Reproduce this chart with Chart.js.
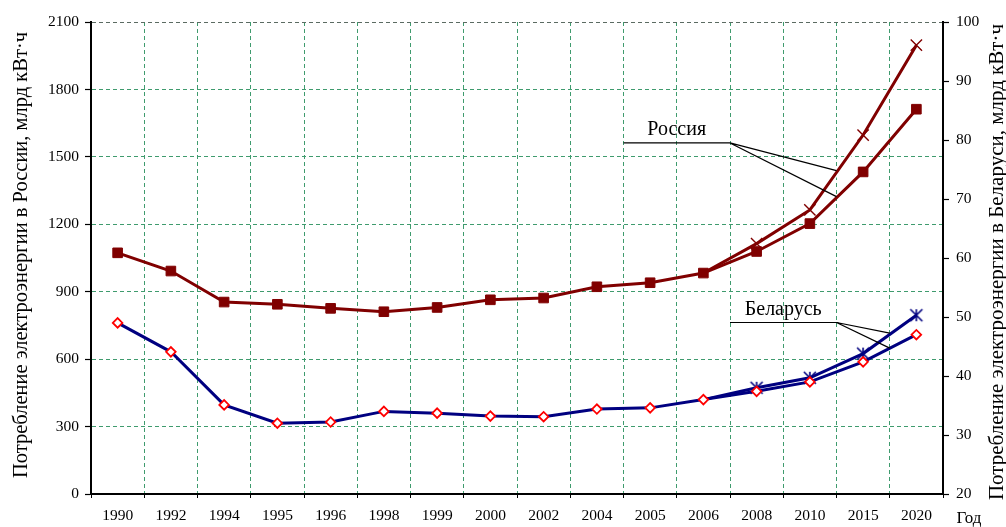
<!DOCTYPE html>
<html>
<head>
<meta charset="utf-8">
<script src="https://cdn.jsdelivr.net/npm/chart.js@4"></script>
<style>
html,body{margin:0;padding:0;background:#fff;}
#wrap{width:1006px;height:527px;}
canvas{display:block;}
</style>
</head>
<body>
<div id="wrap"><canvas id="c" width="1006" height="527"></canvas></div>
<script>
// ---------- data ----------
const categories = ['1990','1992','1994','1995','1996','1998','1999','2000','2002','2004','2005','2006','2008','2010','2015','2020'];
// Russia, bln kWh (left axis)
const russia = [1073, 992, 854, 844, 826, 811, 830, 864, 872, 922, 940, 983, 1079, 1203, 1433, 1712];
const russiaHigh = [null, null, null, null, null, null, null, null, null, null, null, 983, 1114, 1264, 1597, 1997];
// Belarus, bln kWh (right axis)
const belarus = [49.0, 44.1, 35.1, 32.0, 32.2, 34.0, 33.7, 33.2, 33.1, 34.4, 34.6, 36.0, 37.4, 39.0, 42.4, 47.0];
const belarusHigh = [null, null, null, null, null, null, null, null, null, null, null, 36.0, 38.0, 39.7, 43.8, 50.3];
const leftRange = [0, 2100, 300];
const rightRange = [20, 100, 10];
const leftTitle = 'Потребление электроэнергии в России, млрд кВт·ч';
const rightTitle = 'Потребление электроэнергии в Беларуси, млрд кВт·ч';
const xUnit = 'Год';
const labelRussia = 'Россия';
const labelBelarus = 'Беларусь';

// ---------- styles ----------
const FONT = '"Liberation Serif", "Times New Roman", serif';
const RED = '#800000';
const NAVY = '#000080';
const GRID = '#3f9b6e';
const DASH = [4, 3];

function makeStar(h, color, lw) {
  const s = Math.ceil(2 * h + lw + 2);
  const c = document.createElement('canvas');
  c.width = s; c.height = s;
  const g = c.getContext('2d');
  g.strokeStyle = color; g.lineWidth = lw; g.lineCap = 'butt';
  g.translate(s / 2, s / 2);
  g.beginPath();
  g.moveTo(-h, -h); g.lineTo(h, h);
  g.moveTo(-h, h); g.lineTo(h, -h);
  g.moveTo(0, -h); g.lineTo(0, h);
  g.stroke();
  return c;
}
const starImg = makeStar(6, NAVY, 1.6);

const lastShared = 11;

const textPlugin = {
  id: 'texts',
  afterDraw(chart) {
    const { ctx, scales } = chart;
    const x = scales.x, y = scales.y;
    ctx.save();
    ctx.fillStyle = '#000';
    ctx.textAlign = 'center';
    ctx.textBaseline = 'middle';
    // left title
    ctx.font = '20.5px ' + FONT;
    ctx.save();
    ctx.translate(22, 255);
    ctx.rotate(-Math.PI / 2);
    ctx.fillText(leftTitle, 0, 0);
    ctx.restore();
    // right title (reads bottom to top)
    ctx.font = '21px ' + FONT;
    ctx.save();
    ctx.translate(997, 262);
    ctx.rotate(-Math.PI / 2);
    ctx.fillText(rightTitle, 0, 0);
    ctx.restore();
    // x unit
    ctx.font = '17px ' + FONT;
    ctx.fillText(xUnit, 969, 519);

    // annotations (positioned via scales)
    function label(text, cx, cv, hx0, hx1, hv, targets) {
      ctx.font = '20px ' + FONT;
      ctx.fillStyle = '#000';
      ctx.fillText(text, x.getPixelForValue(cx), y.getPixelForValue(cv));
      ctx.strokeStyle = '#000';
      ctx.lineWidth = 1.2;
      ctx.beginPath();
      const px0 = x.getPixelForValue(hx0), px1 = x.getPixelForValue(hx1), py = y.getPixelForValue(hv);
      ctx.moveTo(px0, py); ctx.lineTo(px1, py);
      targets.forEach(t => { ctx.moveTo(px1, py); ctx.lineTo(x.getPixelForValue(t[0]), y.getPixelForValue(t[1])); });
      ctx.stroke();
    }
    label(labelRussia, 10.5, 1621, 9.5, 11.5, 1562, [[13.5, 1439], [13.5, 1323]]);
    label(labelBelarus, 12.5, 820, 11.5, 13.5, 763, [[14.5, 716], [14.5, 649]]);
    ctx.restore();
  }
};

const ctx = document.getElementById('c').getContext('2d');
new Chart(ctx, {
  type: 'line',
  data: {
    labels: categories,
    datasets: [
      {
        label: 'Беларусь',
        data: belarus,
        yAxisID: 'y1',
        borderColor: NAVY,
        borderWidth: 3,
        pointStyle: 'rectRot',
        pointRadius: 4.8,
        pointBorderWidth: 1.8,
        pointBorderColor: '#ff0000',
        pointBackgroundColor: '#ffffff',
        tension: 0
      },
      {
        label: 'Беларусь (прогноз)',
        data: belarusHigh,
        yAxisID: 'y1',
        borderColor: NAVY,
        borderWidth: 3,
        pointStyle: starImg,
        pointRadius: c => c.dataIndex === lastShared ? 0 : 6,
        tension: 0
      },
      {
        label: 'Россия (прогноз)',
        data: russiaHigh,
        yAxisID: 'y',
        borderColor: RED,
        borderWidth: 3,
        pointStyle: 'crossRot',
        pointRadius: c => c.dataIndex === lastShared ? 0 : 8,
        pointBorderWidth: 1.4,
        pointBorderColor: RED,
        tension: 0
      },
      {
        label: 'halo',
        data: russiaHigh,
        yAxisID: 'y',
        borderColor: '#ffffff',
        borderWidth: 6,
        pointRadius: 0,
        segment: { borderColor: s => s.p0DataIndex === lastShared ? 'rgba(255,255,255,0)' : '#ffffff' },
        tension: 0
      },
      {
        label: 'Россия',
        data: russia,
        yAxisID: 'y',
        borderColor: RED,
        borderWidth: 3,
        pointStyle: 'rect',
        pointRadius: 6.8,
        pointBorderWidth: 1,
        pointBorderColor: RED,
        pointBackgroundColor: RED,
        tension: 0
      }
    ]
  },
  options: {
    responsive: false,
    animation: false,
    devicePixelRatio: 1,
    layout: { padding: { top: 22, left: 0, right: 0, bottom: 0 } },
    plugins: { legend: { display: false }, tooltip: { enabled: false }, title: { display: false } },
    scales: {
      x: {
        type: 'category',
        offset: true,
        afterFit: s => { s.height = 33; },
        grid: {
          offset: true,
          color: c => (c.type === 'tick' && c.index > 0) ? GRID : 'rgba(0,0,0,0)',
          lineWidth: 1,
          tickColor: '#000',
          tickLength: 4,
          tickWidth: 1,
          tickBorderDash: []
        },
        border: { display: true, color: '#000', width: 2, dash: DASH },
        ticks: { color: '#000', font: { family: FONT, size: 15.5 }, padding: 9, maxRotation: 0, autoSkip: false }
      },
      y: {
        position: 'left',
        min: leftRange[0], max: leftRange[1],
        afterFit: s => { s.width = 91; },
        grid: {
          color: c => (c.type !== 'tick' || c.tick.value === leftRange[0]) ? 'rgba(0,0,0,0)' : (c.tick.value === leftRange[1] ? '#5b6b62' : GRID),
          lineWidth: 1,
          tickColor: '#000',
          tickLength: 6,
          tickWidth: 1.2,
          tickBorderDash: []
        },
        border: { display: true, color: '#000', width: 2, dash: DASH },
        ticks: { stepSize: leftRange[2], color: '#000', font: { family: FONT, size: 15.5 }, padding: 6, callback: v => String(v) }
      },
      y1: {
        position: 'right',
        min: rightRange[0], max: rightRange[1],
        afterFit: s => { s.width = 63; },
        grid: {
          drawOnChartArea: false,
          color: '#000',
          tickColor: '#000',
          tickLength: 6,
          tickWidth: 1.2,
          tickBorderDash: []
        },
        border: { display: true, color: '#000', width: 2 },
        ticks: { stepSize: rightRange[2], color: '#000', font: { family: FONT, size: 15.5 }, padding: 7, callback: v => String(v) }
      }
    }
  },
  plugins: [textPlugin]
});
</script>
</body>
</html>
